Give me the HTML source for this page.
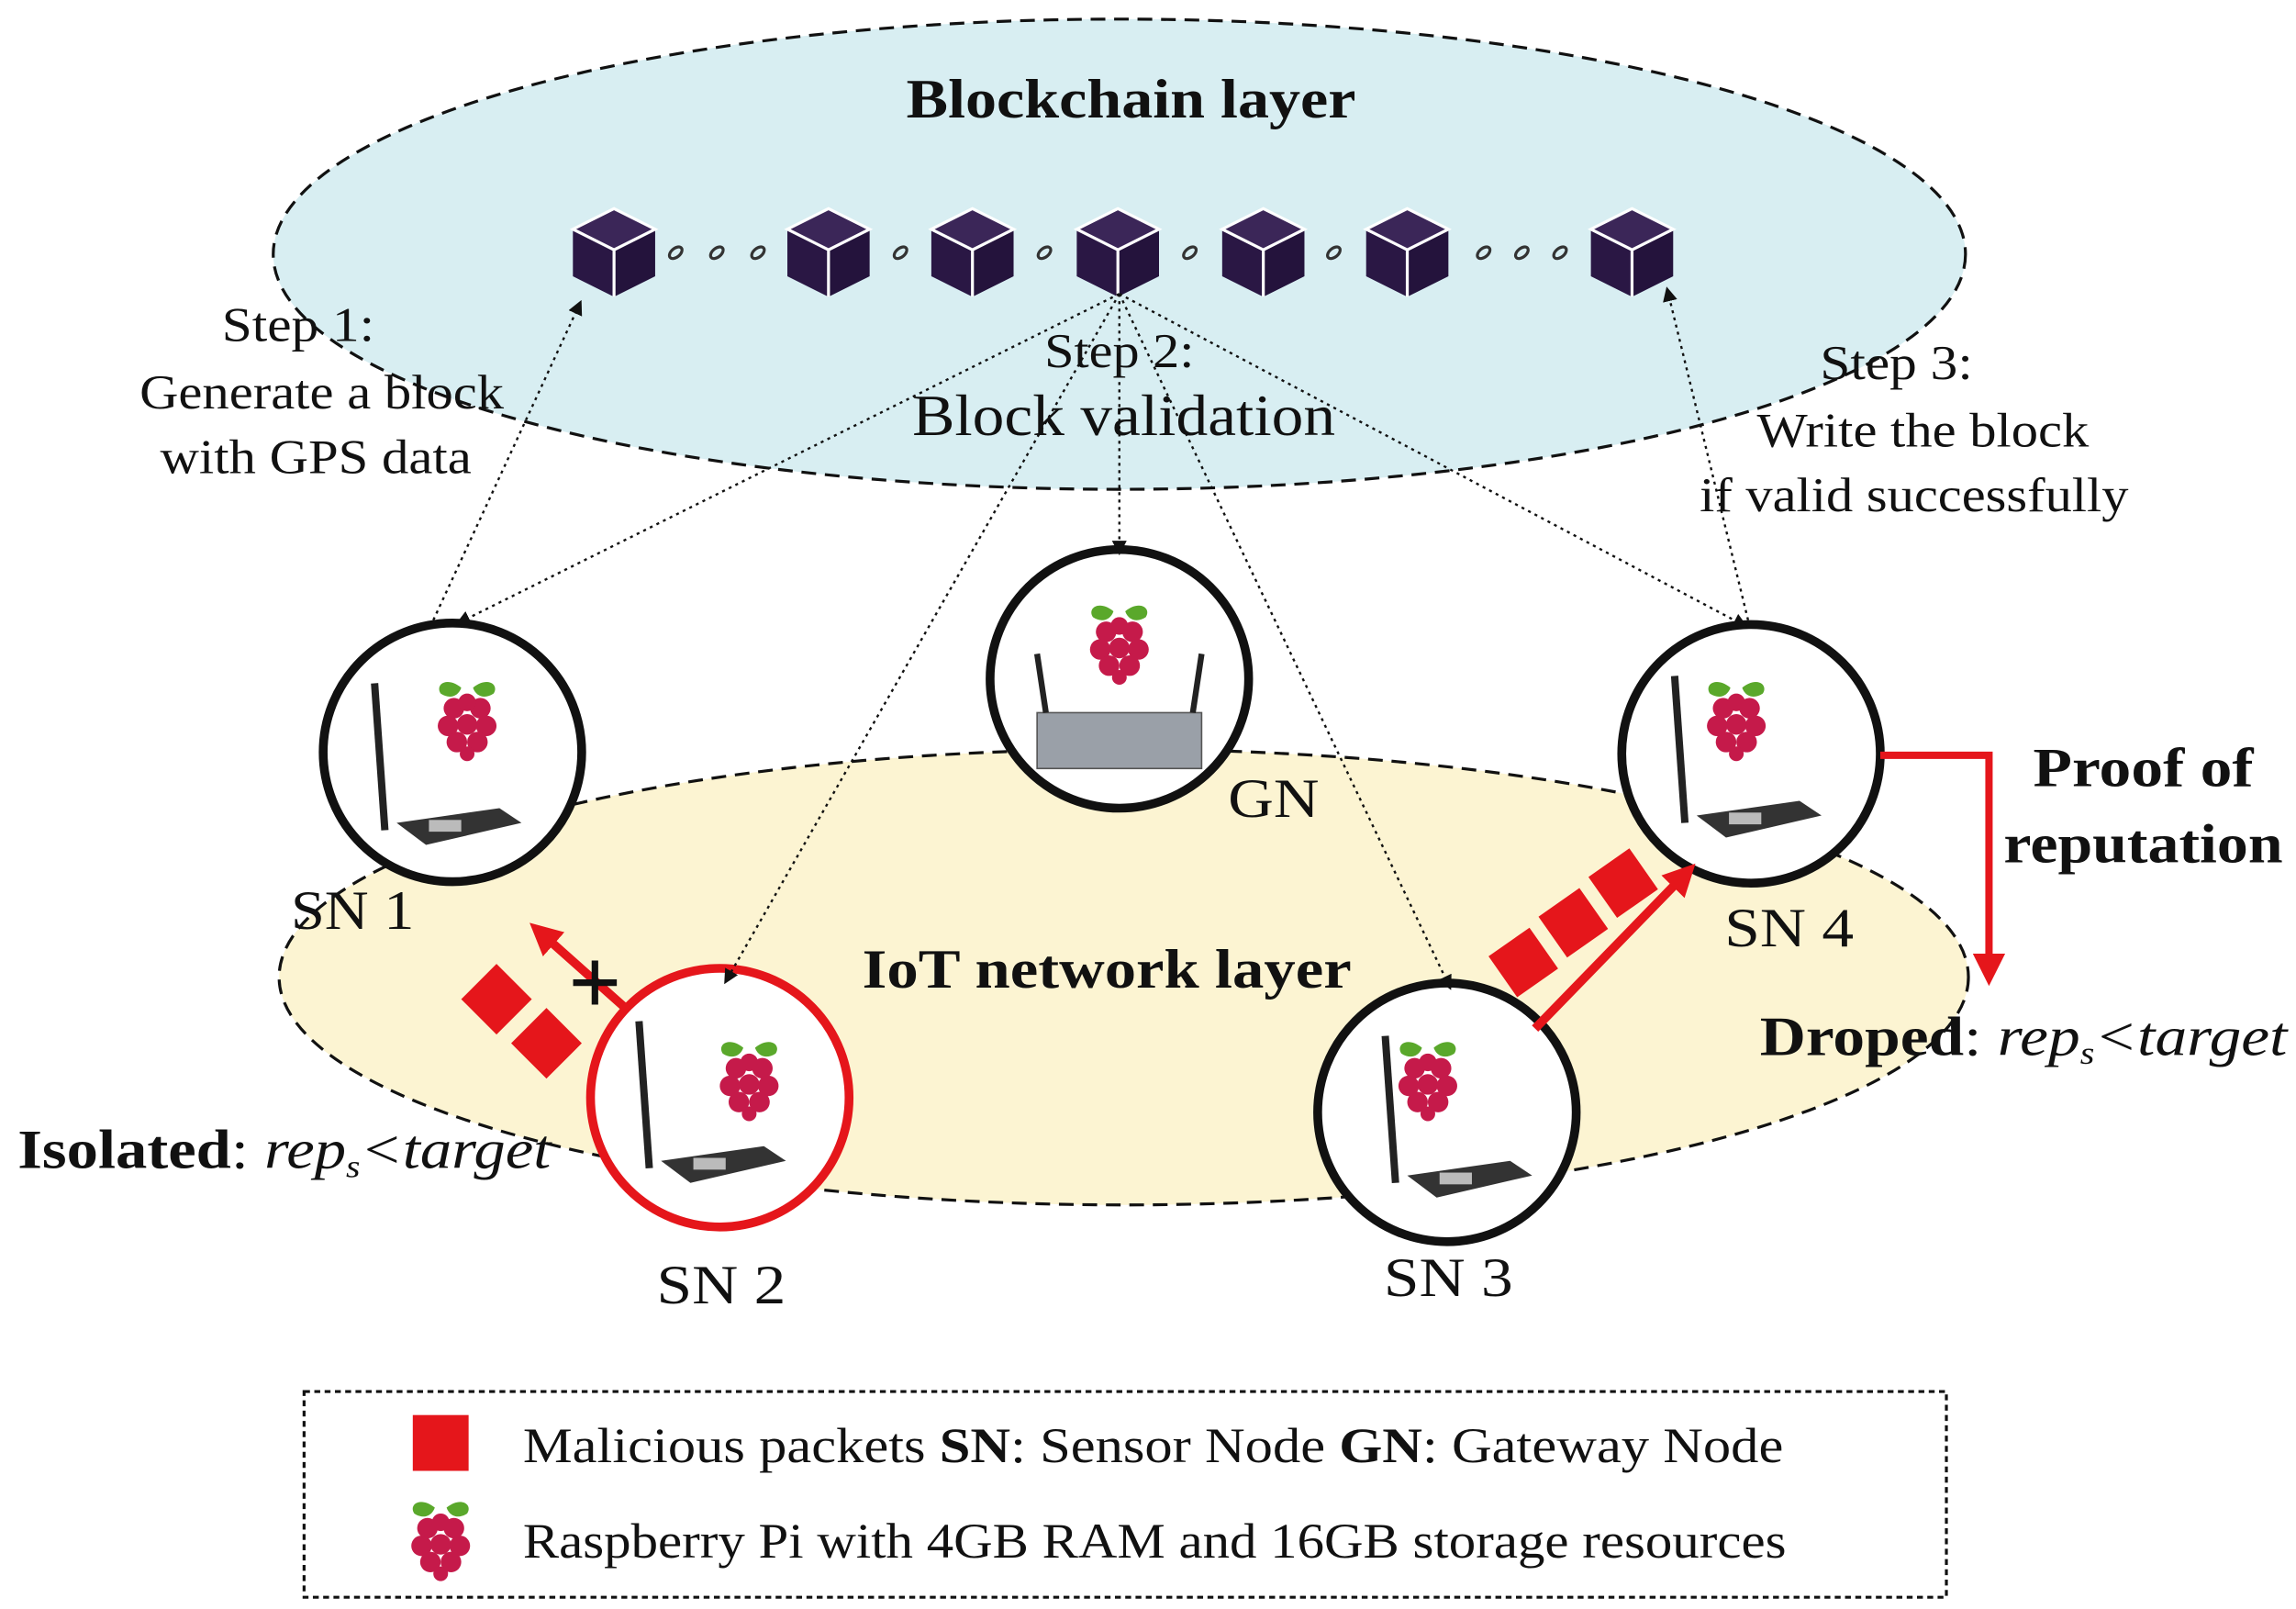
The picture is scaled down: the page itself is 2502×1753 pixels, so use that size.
<!DOCTYPE html>
<html><head><meta charset="utf-8"><style>
html,body{margin:0;padding:0;background:#fff}
svg{display:block}
text{font-family:"Liberation Serif",serif;fill:#111}
</style></head><body>
<svg width="2502" height="1753" viewBox="0 0 1563 1095" preserveAspectRatio="none" xmlns="http://www.w3.org/2000/svg">
<defs>
<marker id="ah" markerWidth="10" markerHeight="10" refX="8" refY="5" orient="auto" markerUnits="userSpaceOnUse"><path d="M0,0 L10,5 L0,10 Z" fill="#111"/></marker>
<marker id="rh" markerWidth="22" markerHeight="22" refX="16" refY="11" orient="auto" markerUnits="userSpaceOnUse"><path d="M0,0 L22,11 L0,22 Z" fill="#e5161b"/></marker>
<g id="cube">
<path d="M0,-30 L28,-16 L0,-2 L-28,-16 Z" fill="#3b2658"/>
<path d="M-28,-16 L0,-2 L0,30 L-28,16 Z" fill="#2a1744"/>
<path d="M28,-16 L0,-2 L0,30 L28,16 Z" fill="#24133c"/>
<path d="M0,-30 L28,-16 L0,-2 L-28,-16 Z M0,-2 L0,30" fill="none" stroke="#fff" stroke-width="2"/>
</g>
<g id="link"><ellipse cx="0" cy="0" rx="5" ry="3" transform="rotate(-40)" fill="none" stroke="#333" stroke-width="2"/></g>
<g id="rpi">
<path d="M-4,-22 C-14,-30 -22,-24 -18,-18 C-12,-14 -6,-16 -4,-22 Z M4,-22 C14,-30 22,-24 18,-18 C12,-14 6,-16 4,-22 Z" fill="#5aa82b"/>
<circle cx="-9" cy="-8" r="7" fill="#c51a4a"/><circle cx="9" cy="-8" r="7" fill="#c51a4a"/>
<circle cx="0" cy="-12" r="6" fill="#c51a4a"/>
<circle cx="-13" cy="4" r="7" fill="#c51a4a"/><circle cx="0" cy="3" r="7" fill="#c51a4a"/><circle cx="13" cy="4" r="7" fill="#c51a4a"/>
<circle cx="-7" cy="15" r="7" fill="#c51a4a"/><circle cx="7" cy="15" r="7" fill="#c51a4a"/>
<circle cx="0" cy="23" r="5" fill="#c51a4a"/>
</g>
<g id="dev">
<line x1="-45" y1="-55" x2="-38" y2="45" stroke="#222" stroke-width="5"/>
<path d="M-30,40 L40,30 L55,40 L-10,55 Z" fill="#333"/>
<rect x="-8" y="38" width="22" height="8" fill="#bbb"/>
</g>
</defs>

<ellipse cx="762" cy="173" rx="576" ry="160" fill="#d8eef2" stroke="#111" stroke-width="2" stroke-dasharray="10,6"/>
<text x="617" y="80" font-size="38" font-weight="bold" textLength="306" lengthAdjust="spacingAndGlyphs">Blockchain layer</text>

<use href="#cube" x="418" y="172"/><use href="#cube" x="564" y="172"/><use href="#cube" x="662" y="172"/><use href="#cube" x="761" y="172"/><use href="#cube" x="860" y="172"/><use href="#cube" x="958" y="172"/><use href="#cube" x="1111" y="172"/>
<use href="#link" x="460" y="172"/><use href="#link" x="488" y="172"/><use href="#link" x="516" y="172"/>
<use href="#link" x="613" y="172"/><use href="#link" x="711" y="172"/><use href="#link" x="810" y="172"/><use href="#link" x="908" y="172"/>
<use href="#link" x="1010" y="172"/><use href="#link" x="1036" y="172"/><use href="#link" x="1062" y="172"/>

<ellipse cx="765" cy="665" rx="575" ry="155" fill="#fcf4d2" stroke="#111" stroke-width="2" stroke-dasharray="10,6"/>
<text x="587" y="672" font-size="38" font-weight="bold" textLength="333" lengthAdjust="spacingAndGlyphs">IoT network layer</text>

<g font-size="33" lengthAdjust="spacingAndGlyphs">
<text x="151" y="232" textLength="104" lengthAdjust="spacingAndGlyphs">Step 1:</text>
<text x="95" y="278" textLength="248" lengthAdjust="spacingAndGlyphs">Generate a block</text>
<text x="109" y="322" textLength="212" lengthAdjust="spacingAndGlyphs">with GPS data</text>
<text x="711" y="250" textLength="102" lengthAdjust="spacingAndGlyphs">Step 2:</text>
<text x="621" y="296" font-size="40" textLength="288" lengthAdjust="spacingAndGlyphs">Block validation</text>
<text x="1239" y="258" textLength="104" lengthAdjust="spacingAndGlyphs">Step 3:</text>
<text x="1196" y="304" textLength="226" lengthAdjust="spacingAndGlyphs">Write the block</text>
<text x="1157" y="348" textLength="292" lengthAdjust="spacingAndGlyphs">if valid successfully</text>
</g>

<g fill="#fff" stroke="#111" stroke-width="6">
<circle cx="308" cy="512" r="88"/>
<circle cx="762" cy="462" r="88"/>
<circle cx="1192" cy="513" r="88"/>
<circle cx="985" cy="757" r="88"/>
<circle cx="490" cy="747" r="88" stroke="#e5161b"/>
</g>

<g stroke="#111" stroke-width="1.5" stroke-dasharray="2,3" fill="none" marker-end="url(#ah)">
<line x1="295" y1="422" x2="395" y2="206"/>
<line x1="762" y1="200" x2="312" y2="424"/>
<line x1="762" y1="200" x2="762" y2="376"/>
<line x1="762" y1="200" x2="494" y2="668"/>
<line x1="762" y1="200" x2="987" y2="672"/>
<line x1="762" y1="200" x2="1188" y2="426"/>
<line x1="1190" y1="422" x2="1135" y2="197"/>
</g>

<use href="#dev" x="300" y="520"/><use href="#rpi" x="318" y="490"/>
<use href="#dev" x="1185" y="515"/><use href="#rpi" x="1182" y="490"/>
<use href="#dev" x="988" y="760"/><use href="#rpi" x="972" y="735"/>
<use href="#dev" x="480" y="750"/><use href="#rpi" x="510" y="735"/>
<rect x="706" y="485" width="112" height="38" fill="#9aa0a8" stroke="#555"/>
<line x1="712" y1="485" x2="706" y2="445" stroke="#222" stroke-width="4"/>
<line x1="812" y1="485" x2="818" y2="445" stroke="#222" stroke-width="4"/>
<use href="#rpi" x="762" y="438"/>

<g font-size="38">
<text x="198" y="632" textLength="84" lengthAdjust="spacingAndGlyphs">SN 1</text>
<text x="836" y="556" textLength="62" lengthAdjust="spacingAndGlyphs">GN</text>
<text x="1174" y="644" textLength="88" lengthAdjust="spacingAndGlyphs">SN 4</text>
<text x="447" y="887" textLength="88" lengthAdjust="spacingAndGlyphs">SN 2</text>
<text x="942" y="882" textLength="88" lengthAdjust="spacingAndGlyphs">SN 3</text>
</g>

<g fill="#e5161b">
<rect x="-17" y="-17" width="34" height="34" transform="translate(338,680) rotate(45)"/>
<rect x="-17" y="-17" width="34" height="34" transform="translate(372,710) rotate(45)"/>
<rect x="-17" y="-17" width="34" height="34" transform="translate(1037,655) rotate(-35)"/>
<rect x="-17" y="-17" width="34" height="34" transform="translate(1071,628) rotate(-35)"/>
<rect x="-17" y="-17" width="34" height="34" transform="translate(1105,601) rotate(-35)"/>
</g>
<line x1="428" y1="688" x2="365" y2="632" stroke="#e5161b" stroke-width="6" marker-end="url(#rh)"/>
<text x="405" y="690" font-size="64" font-weight="bold" text-anchor="middle" font-family="Liberation Sans,sans-serif">+</text>
<line x1="1045" y1="700" x2="1150" y2="592" stroke="#e5161b" stroke-width="6" marker-end="url(#rh)"/>
<polyline points="1280,514 1354,514 1354,665" fill="none" stroke="#e5161b" stroke-width="5" marker-end="url(#rh)"/>

<text x="1384" y="535" font-size="38" font-weight="bold" textLength="150" lengthAdjust="spacingAndGlyphs">Proof of</text>
<text x="1364" y="587" font-size="38" font-weight="bold" textLength="190" lengthAdjust="spacingAndGlyphs">reputation</text>
<text x="1198" y="718" font-size="38" textLength="359" lengthAdjust="spacingAndGlyphs"><tspan font-weight="bold">Droped</tspan>: <tspan font-style="italic">rep</tspan><tspan font-style="italic" font-size="22" dy="6">s</tspan><tspan font-style="italic" dy="-6">&lt;target</tspan></text>
<text x="12" y="795" font-size="38" textLength="363" lengthAdjust="spacingAndGlyphs"><tspan font-weight="bold">Isolated</tspan>: <tspan font-style="italic">rep</tspan><tspan font-style="italic" font-size="22" dy="6">s</tspan><tspan font-style="italic" dy="-6">&lt;target</tspan></text>

<rect x="207" y="947" width="1118" height="140" fill="none" stroke="#111" stroke-width="2" stroke-dasharray="4,3"/>
<rect x="281" y="963" width="38" height="38" fill="#e5161b"/>
<use href="#rpi" x="300" y="1048"/>
<text x="356" y="995" font-size="34" textLength="858" lengthAdjust="spacingAndGlyphs">Malicious packets  <tspan font-weight="bold">SN</tspan>: Sensor Node  <tspan font-weight="bold">GN</tspan>: Gateway Node</text>
<text x="356" y="1060" font-size="34" textLength="860" lengthAdjust="spacingAndGlyphs">Raspberry Pi with 4GB RAM and 16GB storage resources</text>
</svg>
</body></html>
